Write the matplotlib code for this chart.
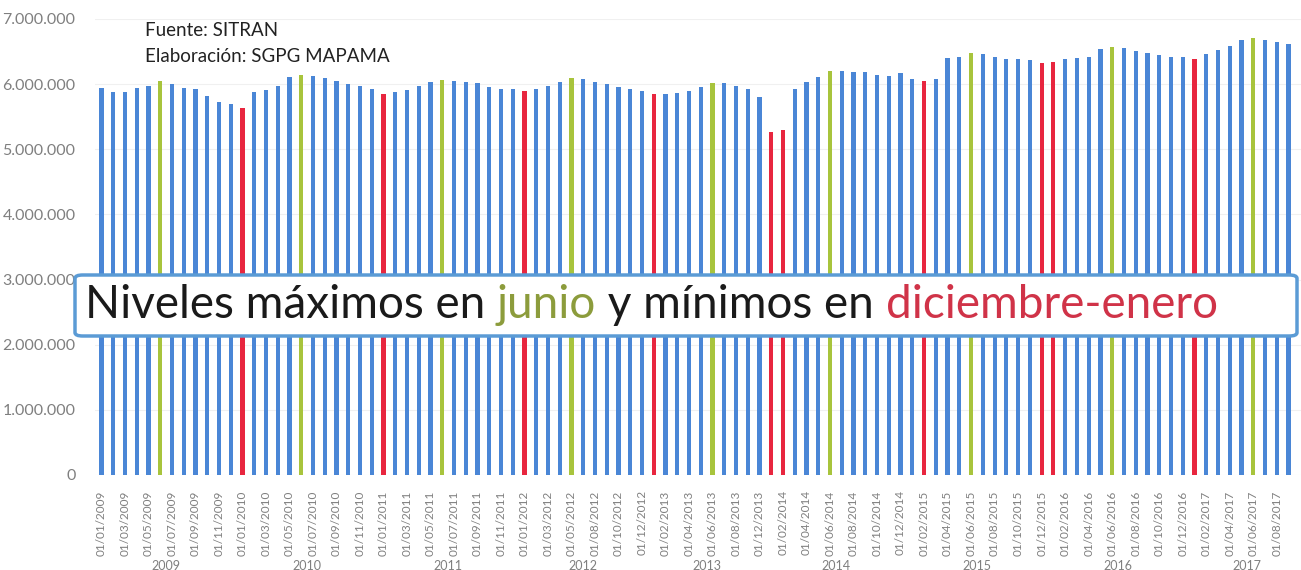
import matplotlib.pyplot as plt
from matplotlib.patches import FancyBboxPatch
from matplotlib.text import Annotation

# fechas de cada barra (como aparecen en el eje)
fechas = (
	[f"01/{m:02d}/2009" for m in range(1, 13)]
	+ [f"01/{m:02d}/2010" for m in range(1, 13)]
	+ [f"01/{m:02d}/2011" for m in range(1, 13)]
	+ [f"01/{m:02d}/2012" for m in [1, 2, 3, 4, 5, 7, 8, 9, 10, 11, 12]]
	+ [f"01/{m:02d}/2013" for m in [1, 2, 3, 4, 5, 6, 7, 8, 10, 12]]
	+ [f"01/{m:02d}/2014" for m in range(1, 13)]
	+ [f"01/{m:02d}/2015" for m in range(1, 13)]
	+ [f"01/{m:02d}/2016" for m in range(1, 13)]
	+ [f"01/{m:02d}/2017" for m in range(1, 10)]
)

# afiliados (miles)
valores = [
	5946, 5884, 5884, 5946, 5976, 6044, 5998, 5936, 5921, 5818, 5722, 5691,
	5629, 5884, 5910, 5972, 6105, 6145, 6125, 6095, 6044, 6002, 5972, 5926,
	5844, 5884, 5915, 5976, 6040, 6064, 6053, 6038, 6013, 5952, 5921, 5921,
	5895, 5921, 5972, 6038, 6090, 6079, 6029, 6002, 5952, 5921, 5895,
	5844, 5854, 5869, 5895, 5952, 6013, 6023, 5972, 5921, 5798,
	5270, 5296, 5921, 6029, 6115, 6207, 6202, 6191, 6191, 6141, 6130, 6176,
	6075, 6053, 6079, 6397, 6422, 6474, 6458, 6422, 6386, 6386, 6371, 6330,
	6336, 6386, 6397, 6422, 6535, 6575, 6560, 6509, 6483, 6448, 6422, 6422,
	6382, 6463, 6524, 6590, 6678, 6713, 6678, 6643, 6612,
]

maximos = ["01/06/2009", "01/06/2010", "01/06/2011", "01/05/2012", "01/06/2013",
	"01/06/2014", "01/06/2015", "01/06/2016", "01/06/2017"]
minimos = ["01/01/2010", "01/01/2011", "01/01/2012", "01/01/2013", "01/01/2014",
	"01/02/2014", "01/02/2015", "01/12/2015", "01/01/2016", "01/01/2017"]

anios = ["2009", "2010", "2011", "2012", "2013", "2014", "2015", "2016", "2017"]

AZUL = "#4a86d6"
VERDE = "#a8c43c"
ROJO = "#e8263f"
GRIS = "#7f7f7f"

colores = []
for f in fechas:
	if f in maximos:
		colores.append(VERDE)
	elif f in minimos:
		colores.append(ROJO)
	else:
		colores.append(AZUL)

plt.rcParams['font.family'] = ['Lato', 'DejaVu Sans']

fig = plt.figure(figsize=(13.01, 5.70), dpi=100)
ax = fig.add_axes([95 / 1301, 95 / 570, 1 - 95 / 1301, (475 - 19) / 570])

x = list(range(len(valores)))
ax.bar(x, [v * 1000 for v in valores], width=0.36, color=colores, zorder=2)

ax.set_xlim(-0.55, 102.07)
ax.set_ylim(0, 7000000)
ax.set_yticks(range(0, 7000001, 1000000))
ax.set_yticklabels([f"{v:,}".replace(",", ".") for v in range(0, 7000001, 1000000)],
	fontsize=11.5, color=GRIS)
ax.yaxis.grid(True, color="#f0f0f0", linewidth=0.8, zorder=0)

ax.set_xticks(x[::2])
ax.set_xticklabels(fechas[::2], rotation=90, fontsize=8.5, color=GRIS)
ax.tick_params(axis='both', length=0)
ax.tick_params(axis='x', pad=11)
ax.tick_params(axis='y', pad=14)
for s in ax.spines.values():
	s.set_visible(False)

# etiquetas de anio centradas en su grupo
for a in anios:
	idx = [i for i, f in enumerate(fechas) if f.endswith(a)]
	centro = (idx[0] + idx[-1]) / 2
	if a == "2017":
		centro = 97.5
	ax.text(centro, -0.2, a, transform=ax.get_xaxis_transform(), ha='center',
		va='center', fontsize=9, color=GRIS)

# fuente
fig.text(145 / 1301, 1 - 31 / 570, "Fuente: SITRAN", fontsize=13.5, color="#222222",
	va='center', ha='left')
fig.text(145 / 1301, 1 - 57 / 570, "Elaboración: SGPG MAPAMA", fontsize=13.5,
	color="#222222", va='center', ha='left')

# recuadro con el mensaje
caja = FancyBboxPatch((75 / 1301, (570 - 336) / 570), (1297 - 75) / 1301, 61 / 570,
	boxstyle="round,pad=0,rounding_size=0.006", transform=fig.transFigure,
	facecolor="white", edgecolor="#5b9bd5", linewidth=2.5, zorder=5)
fig.patches.append(caja)

partes = [("Niveles máximos en ", "#1a1a1a"), ("junio", "#8c9c3c"),
	(" y mínimos en ", "#1a1a1a"), ("diciembre-enero", "#d03348")]
prev = fig.text(85 / 1301, 1 - 305 / 570, partes[0][0], fontsize=33, color=partes[0][1],
	va='center', ha='left', zorder=6)
for txt, col in partes[1:]:
	prev = fig.add_artist(Annotation(txt, xy=(1, 0), xycoords=prev, va='bottom',
		ha='left', fontsize=33, color=col, zorder=6))

fig.savefig("out.png", dpi=100)
